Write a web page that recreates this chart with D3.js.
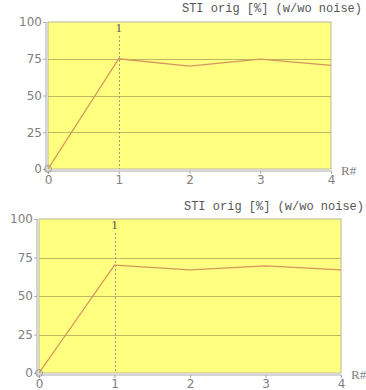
<!DOCTYPE html>
<html>
<head>
<meta charset="utf-8">
<script src="https://cdn.jsdelivr.net/npm/d3@7/dist/d3.min.js"></script>
<style>
  body { margin: 0; background: #fff; }
  svg { display: block; }
</style>
</head>
<body>
<div id="chart"></div>
<script>
// values
var rounds = [0, 1, 2, 3, 4];
var stiTop = [0, 75, 70, 74.8, 70.5];
var stiBottom = [0, 70, 67, 69.5, 67];
var yTicks = [0, 25, 50, 75, 100];
var titleText = "STI orig [%] (w/wo noise)";
var markRound = 1;

var width = 366, height = 390;

var svg = d3.select("#chart").append("svg")
    .attr("width", width)
    .attr("height", height);

function drawPanel(values, box) {
    var x = d3.scaleLinear().domain([0, 4]).range([box.left, box.right]);
    var y = d3.scaleLinear().domain([0, 100]).range([box.bottom, box.top]);

    var g = svg.append("g");

    // title
    g.append("text")
        .attr("x", box.titleX)
        .attr("y", box.titleY)
        .attr("text-anchor", "end")
        .style("font-family", "'Liberation Mono', monospace")
        .style("font-size", "12px")
        .style("fill", "#555")
        .text(titleText);

    // yellow plot area
    g.append("rect")
        .attr("x", box.left)
        .attr("y", box.top)
        .attr("width", box.right - box.left)
        .attr("height", box.bottom - box.top)
        .style("fill", "#ffff80")
        .style("stroke", "#b8b8a0")
        .style("stroke-width", 1);

    // horizontal grid
    g.selectAll(".grid")
        .data(yTicks.filter(d => d > 0 && d < 100))
        .enter().append("line")
        .attr("x1", box.left)
        .attr("x2", box.right)
        .attr("y1", d => Math.round(y(d)) + 0.5)
        .attr("y2", d => Math.round(y(d)) + 0.5)
        .style("stroke", "#c0b860")
        .style("stroke-width", 1);

    // vertical dotted marker at round 1
    g.append("line")
        .attr("x1", Math.round(x(markRound)) + 0.5)
        .attr("x2", Math.round(x(markRound)) + 0.5)
        .attr("y1", box.top + 14)
        .attr("y2", box.bottom)
        .style("stroke", "#9a9a9a")
        .style("stroke-dasharray", "2,2");

    g.append("text")
        .attr("x", x(markRound))
        .attr("y", box.top + 10)
        .attr("text-anchor", "middle")
        .style("font-family", "'Liberation Serif', serif")
        .style("font-size", "13px")
        .style("fill", "#555")
        .text(markRound);

    // y axis
    var yAxis = d3.axisLeft(y).tickValues(yTicks).tickSize(3).tickPadding(1);
    var ya = g.append("g")
        .attr("transform", "translate(" + (box.left - 2) + ",0)")
        .call(yAxis);
    ya.select(".domain").attr("d", "M0," + box.top + "V" + (box.bottom + 2)).style("stroke", "#aaa");

    // x axis
    var xAxis = d3.axisBottom(x).tickValues(rounds).tickFormat(d3.format("d")).tickSize(3).tickPadding(1);
    var xa = g.append("g")
        .attr("transform", "translate(0," + (box.bottom + 2) + ")")
        .call(xAxis);
    xa.select(".domain").attr("d", "M" + (box.left - 2) + ",0H" + box.right).style("stroke", "#aaa");

    g.selectAll(".tick line").style("stroke", "#aaa");
    g.selectAll(".tick text")
        .style("font-family", "'DejaVu Sans', sans-serif")
        .style("font-size", "12px")
        .style("fill", "#808080");

    // axis name
    g.append("text")
        .attr("x", box.right + 10)
        .attr("y", box.bottom + 6)
        .style("font-family", "'Liberation Serif', serif")
        .style("font-size", "13px")
        .style("fill", "#808080")
        .text("R#");

    // data line
    var line = d3.line()
        .x((d, i) => x(rounds[i]))
        .y(d => y(d));

    g.append("path")
        .datum(values)
        .attr("d", line)
        .style("fill", "none")
        .style("stroke", "#d4965a")
        .style("stroke-width", 1.3);

    // open circle at origin
    g.append("circle")
        .attr("cx", x(rounds[0]))
        .attr("cy", y(values[0]))
        .attr("r", 3.5)
        .style("fill", "none")
        .style("stroke", "#999");
}

drawPanel(stiTop, { left: 48, right: 331, top: 22, bottom: 169, titleX: 362, titleY: 12 });
drawPanel(stiBottom, { left: 39, right: 341, top: 219, bottom: 373, titleX: 364, titleY: 210 });
</script>
</body>
</html>
